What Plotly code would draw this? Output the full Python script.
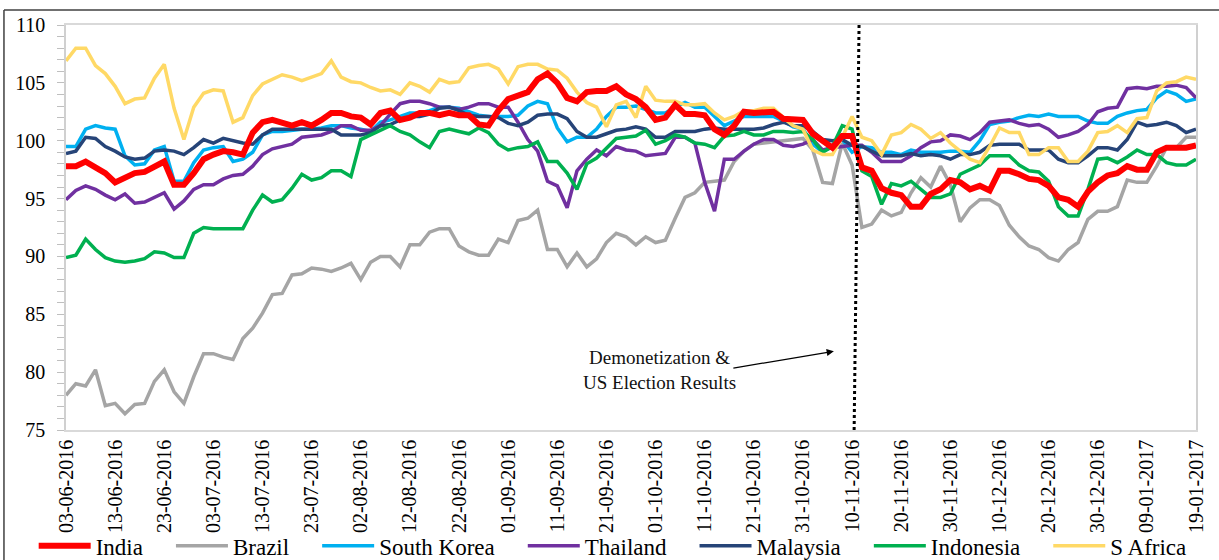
import pandas as pd
import plotly.graph_objects as go

# ---- data (one value every 2 days) ----
dates = pd.date_range("2016-06-03", "2017-01-19", freq="2D")
tick_dates = pd.date_range("2016-06-03", "2017-01-19", freq="10D")

india = [97.8, 97.8, 98.2, 97.7, 97.2, 96.4, 96.8, 97.2, 97.3, 97.8, 98.2, 96.2, 96.2, 97.2, 98.4, 98.8, 99.1, 99.0, 98.8, 100.7,
         101.6, 101.8, 101.5, 101.3, 101.6, 101.3, 101.8, 102.4, 102.4, 102.1, 102.0, 101.4, 102.4, 102.6, 101.8, 102.0, 102.4, 102.4, 102.2,
         102.4, 102.2, 102.2, 101.4, 101.3, 102.6, 103.6, 103.9, 104.2, 105.3, 105.8, 105.0, 103.7, 103.4, 104.2, 104.3, 104.3, 104.7, 104.0,
         103.6, 102.9, 101.8, 102.0, 103.1, 102.3, 102.3, 102.2, 101.0, 100.5, 101.3, 102.5, 102.4, 102.4, 102.5, 101.9, 101.8, 101.8, 100.6, 100.0,
         99.4, 100.4, 100.4, 97.7, 97.4, 95.9, 95.5, 95.3, 94.3, 94.3, 95.4, 95.8, 96.6, 96.4, 95.8, 96.1, 95.7, 97.4, 97.4,
         97.1, 96.7, 96.6, 96.1, 95.1, 94.9, 94.3, 95.6, 96.4, 97.0, 97.2, 97.8, 97.5, 97.5, 99.0, 99.4, 99.4, 99.4, 99.6]

brazil = [78.0, 79.0, 78.8, 80.2, 77.1, 77.3, 76.4, 77.2, 77.3, 79.2, 80.2, 78.3, 77.3, 79.6, 81.6, 81.6, 81.3, 81.1, 82.9, 83.8,
          85.1, 86.7, 86.8, 88.4, 88.5, 89.0, 88.9, 88.7, 89.0, 89.4, 88.0, 89.5, 90.0, 90.0, 89.1, 91.0, 91.0, 92.1, 92.4,
          92.4, 90.9, 90.4, 90.1, 90.1, 91.5, 91.2, 93.1, 93.3, 94.0, 90.6, 90.6, 89.1, 90.3, 89.1, 89.8, 91.2, 92.0, 91.7,
          91.0, 91.7, 91.2, 91.4, 93.3, 95.1, 95.5, 96.4, 96.5, 96.6, 98.2, 99.1, 99.7, 99.8, 99.9, 100.0, 100.1, 100.2, 99.2, 96.4,
          96.3, 99.8, 97.9, 92.5, 92.8, 94.0, 93.5, 93.8, 95.5, 96.8, 96.0, 97.8, 96.2, 93.0, 94.2, 94.9, 94.9, 94.4, 92.7,
          91.7, 90.9, 90.6, 89.9, 89.6, 90.6, 91.2, 93.2, 93.9, 93.9, 94.3, 96.6, 96.4, 96.4, 97.8, 99.4, 99.4, 100.3, 100.3]

south_korea = [99.5, 99.5, 101.0, 101.3, 101.1, 101.0, 98.7, 97.9, 98.0, 99.2, 99.5, 96.5, 96.5, 98.1, 99.2, 99.4, 99.5, 98.2, 98.4, 99.0,
               100.5, 100.8, 100.8, 100.9, 101.0, 101.0, 101.1, 101.3, 101.3, 101.1, 101.0, 100.8, 101.6, 101.8, 102.1, 102.4, 102.4, 102.6, 102.9,
               102.9, 102.8, 102.5, 102.2, 102.1, 102.1, 102.1, 102.2, 103.0, 103.4, 103.2, 101.1, 99.9, 100.3, 100.3, 101.0, 102.1, 102.9, 102.9,
               103.0, 102.7, 102.4, 102.4, 102.9, 103.3, 102.9, 102.9, 102.1, 101.3, 101.7, 102.1, 102.1, 102.1, 102.1, 101.7, 101.2, 101.0, 99.7, 99.0,
               99.6, 100.1, 99.0, 99.5, 99.4, 99.0, 99.0, 98.8, 99.2, 99.0, 99.0, 99.0, 99.1, 99.1, 99.0, 100.0, 101.4, 101.6, 101.7,
               102.0, 102.2, 102.1, 102.3, 102.1, 102.1, 102.1, 101.7, 101.5, 101.5, 102.1, 102.4, 102.6, 102.7, 103.7, 104.3, 104.0, 103.4, 103.6]

thailand = [94.9, 95.7, 96.1, 95.8, 95.3, 94.9, 95.4, 94.6, 94.7, 95.1, 95.5, 94.1, 94.8, 95.8, 96.2, 96.2, 96.7, 97.0, 97.1, 97.8,
            98.8, 99.3, 99.5, 99.7, 100.3, 100.4, 100.5, 100.8, 101.3, 101.3, 100.9, 100.9, 101.3, 102.3, 103.2, 103.4, 103.4, 103.2, 102.9,
            102.9, 102.7, 102.9, 103.2, 103.2, 102.9, 102.9, 101.6, 100.1, 99.1, 96.5, 96.1, 94.2, 97.4, 98.4, 99.2, 98.7, 99.5, 99.2,
            99.1, 98.7, 98.8, 98.9, 100.3, 100.3, 99.8, 96.4, 93.9, 98.4, 98.4, 99.1, 99.7, 100.1, 100.1, 99.6, 99.5, 99.7, 100.1, 99.2,
            99.4, 99.5, 99.6, 99.6, 99.0, 98.2, 98.2, 98.2, 98.7, 99.4, 99.9, 100.0, 100.5, 100.4, 100.1, 100.7, 101.6, 101.7, 101.8,
            101.5, 101.3, 101.4, 101.0, 100.3, 100.5, 100.8, 101.4, 102.5, 102.8, 102.9, 104.5, 104.6, 104.5, 104.7, 104.7, 104.8, 104.6, 103.7]

malaysia = [98.9, 99.1, 100.3, 100.2, 99.5, 99.1, 98.6, 98.4, 98.5, 99.1, 99.2, 99.1, 98.8, 99.4, 100.1, 99.8, 100.2, 100.0, 99.8, 99.7,
            100.5, 101.0, 101.0, 101.0, 101.0, 101.0, 101.0, 101.0, 100.5, 100.5, 100.5, 100.7, 101.3, 101.4, 101.8, 102.1, 102.1, 102.3, 102.8,
            102.9, 102.6, 102.2, 102.1, 102.1, 102.0, 101.5, 101.3, 101.6, 102.2, 102.3, 102.3, 101.9, 100.8, 100.3, 100.3, 100.6, 100.9, 101.0,
            101.2, 101.0, 100.3, 100.3, 100.8, 100.8, 100.8, 101.0, 101.1, 101.0, 101.0, 101.0, 101.0, 101.1, 101.4, 101.6, 101.3, 101.3, 100.8, 100.1,
            100.0, 100.1, 99.6, 99.5, 99.1, 98.7, 98.7, 98.7, 98.9, 98.7, 98.8, 98.7, 98.4, 98.8, 98.8, 99.0, 99.6, 99.7, 99.7,
            99.7, 99.2, 99.2, 99.2, 98.4, 98.1, 98.1, 98.7, 99.4, 99.4, 99.2, 100.1, 101.6, 101.3, 101.4, 101.6, 101.3, 100.7, 101.0]

indonesia = [89.9, 90.1, 91.5, 90.6, 89.9, 89.6, 89.5, 89.6, 89.8, 90.4, 90.3, 89.9, 89.9, 92.0, 92.5, 92.4, 92.4, 92.4, 92.4, 94.0,
             95.3, 94.7, 94.9, 95.9, 97.1, 96.6, 96.8, 97.4, 97.4, 96.9, 100.1, 100.5, 100.9, 101.3, 100.8, 100.5, 99.9, 99.4, 100.8,
             101.0, 100.8, 100.6, 101.1, 100.7, 99.7, 99.2, 99.4, 99.5, 99.9, 98.2, 98.2, 97.2, 95.8, 98.0, 98.5, 99.4, 100.2, 100.3,
             100.4, 100.9, 99.7, 100.0, 100.5, 100.3, 99.8, 99.7, 99.4, 100.4, 100.5, 100.8, 100.5, 100.5, 100.8, 100.8, 100.7, 100.8, 100.1, 99.0,
             99.5, 101.3, 101.0, 97.4, 96.9, 94.5, 96.3, 96.1, 96.5, 95.8, 95.1, 95.1, 95.4, 97.1, 97.5, 97.9, 98.7, 98.7, 98.7,
             97.9, 97.4, 97.3, 96.5, 94.3, 93.5, 93.5, 95.8, 98.4, 98.5, 98.1, 98.6, 99.2, 98.8, 98.8, 98.1, 97.9, 97.9, 98.4]

s_africa = [106.9, 108.0, 108.0, 106.5, 105.8, 104.7, 103.2, 103.6, 103.7, 105.4, 106.6, 102.8, 100.1, 102.9, 104.1, 104.4, 104.3, 101.6, 102.0, 103.9,
            104.9, 105.3, 105.7, 105.5, 105.2, 105.5, 105.8, 106.9, 105.5, 105.1, 105.0, 104.6, 104.3, 104.4, 104.0, 105.0, 104.7, 104.2, 105.3,
            105.0, 105.1, 106.3, 106.5, 106.6, 106.2, 104.9, 106.4, 106.6, 106.6, 106.2, 106.1, 105.4, 104.2, 103.3, 102.9, 101.2, 103.1, 103.4,
            102.0, 104.7, 103.5, 103.4, 103.4, 103.1, 103.1, 103.2, 102.4, 101.8, 102.1, 102.6, 102.6, 102.8, 102.8, 102.0, 101.3, 101.0, 99.2, 98.8,
            98.8, 100.3, 102.1, 100.3, 100.0, 98.8, 100.5, 100.7, 101.4, 101.0, 100.2, 100.7, 99.8, 99.1, 98.4, 98.1, 99.5, 101.1, 100.7,
            100.7, 98.8, 98.8, 99.4, 99.4, 98.2, 98.2, 99.1, 100.7, 100.8, 101.3, 100.7, 101.9, 102.0, 104.3, 105.0, 105.1, 105.5, 105.3]

names = ["India", "Brazil", "South Korea", "Thailand", "Malaysia", "Indonesia", "S Africa"]
colors = ["#FF0000", "#A5A5A5", "#00B0F0", "#7030A0", "#264478", "#00B050", "#FFD966"]
widths = [6, 3.5, 3.5, 3.5, 3.5, 3.5, 3.5]
series = [india, brazil, south_korea, thailand, malaysia, indonesia, s_africa]

FONT = "Liberation Serif"
PAD = "\u00a0" * 4  # extra spacing between legend entries

fig = go.Figure()
draw_order = [1, 2, 3, 4, 5, 6, 0]  # India drawn on top
for i in draw_order:
    fig.add_trace(go.Scatter(
        x=dates, y=series[i], name=names[i] + PAD, mode="lines",
        line=dict(color=colors[i], width=widths[i]),
        legendrank=i + 1,
    ))

# demonetization marker
fig.add_shape(type="line", xref="x", yref="paper",
              x0="2016-11-10 10:00", x1="2016-11-11 10:00", y0=0, y1=1,
              line=dict(color="black", width=3, dash="dot"))

fig.add_annotation(x="2016-10-01 19:00", y=80.2, text="Demonetization &<br>US Election Results",
                   showarrow=False, font=dict(family=FONT, size=19, color="#111"), align="center")
fig.add_annotation(x="2016-11-06 07:00", y=81.8, text="", showarrow=True,
                   ax=-102, ay=17, arrowhead=2, arrowsize=1.2, arrowwidth=1.2, arrowcolor="black")

# outer frame (left and top edges)
fig.add_shape(type="line", xref="paper", yref="paper", x0=-0.0549, x1=-0.0549, y0=-0.33, y1=1.037,
              line=dict(color="#404040", width=1.5))
fig.add_shape(type="line", xref="paper", yref="paper", x0=-0.0549, x1=1.03, y0=1.037, y1=1.037,
              line=dict(color="#404040", width=1.5))

fig.update_layout(
    width=1219, height=560,
    margin=dict(l=66, r=23, t=25, b=130, autoexpand=False),
    paper_bgcolor="white", plot_bgcolor="white",
    font=dict(family=FONT, color="black"),
    showlegend=True,
    legend=dict(orientation="h", x=-0.0286, xanchor="left", y=-0.286, yanchor="middle",
                font=dict(family=FONT, size=23, color="black"), itemwidth=52,
                traceorder="normal", bgcolor="rgba(0,0,0,0)"),
)
fig.update_xaxes(type="date", range=[dates[0], dates[-1]], tickvals=tick_dates,
                 tickformat="%d-%m-%Y", tickangle=-90, tickfont=dict(family=FONT, size=20),
                 showgrid=False, zeroline=False, showline=True, linecolor="#D9D9D9",
                 linewidth=1.5, mirror=True, ticks="")
fig.update_yaxes(range=[75, 110], dtick=5, tickfont=dict(family=FONT, size=20),
                 showgrid=False, zeroline=False, showline=True, linecolor="#D0D0D0",
                 linewidth=1.5, mirror=True, ticks="outside", ticklen=7, tickcolor="#BFBFBF",
                 tickwidth=1.2, ticklabelstandoff=8,
                 minor=dict(dtick=1, ticks="outside", ticklen=7, tickcolor="#BFBFBF", tickwidth=1.2,
                            showgrid=False))

fig.write_html("out.html", config={"displayModeBar": False},
               post_script="document.body.style.margin='0px';")
